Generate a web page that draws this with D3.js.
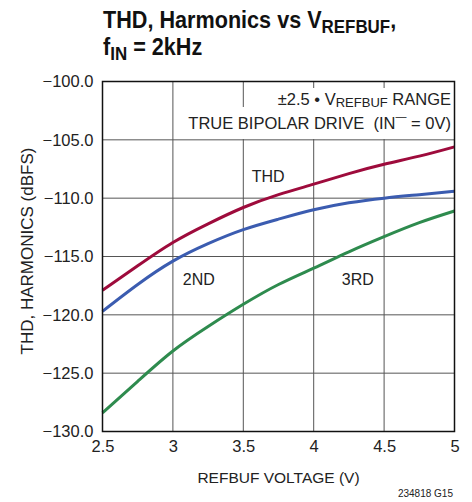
<!DOCTYPE html>
<html>
<head>
<meta charset="utf-8">
<script src="https://cdn.jsdelivr.net/npm/d3@7"></script>
<style>
  body { margin: 0; background: #fff; }
  svg { display: block; font-family: "Liberation Sans", Arial, sans-serif; }
</style>
</head>
<body>
<div class="container"></div>
<script>
const voltage = [2.5, 2.75, 3, 3.25, 3.5, 3.75, 4, 4.25, 4.5, 4.75, 5];
const thd = [-117.9, -115.8, -113.8, -112.2, -110.8, -109.7, -108.8, -107.9, -107.1, -106.4, -105.6];
const second = [-119.7, -117.4, -115.4, -113.9, -112.7, -111.8, -111.0, -110.4, -110.0, -109.7, -109.4];
const third = [-128.4, -125.7, -123.1, -121.0, -119.1, -117.4, -116.0, -114.6, -113.3, -112.1, -111.1];
const xTicks = [2.5, 3, 3.5, 4, 4.5, 5];
const yTicks = [-100, -105, -110, -115, -120, -125, -130];

const series = [
  { name: "THD", values: thd, color: "#9e0b3c" },
  { name: "2ND", values: second, color: "#3b5cb0" },
  { name: "3RD", values: third, color: "#2e8b4e" },
];

const width = 472;
const height = 502;
const margin = { left: 102.5, right: 17.5, top: 81.5, bottom: 70.5 };

const svg = d3
  .select(".container")
  .append("svg")
  .attr("width", width)
  .attr("height", height);

const x = d3.scaleLinear().domain([2.5, 5]).range([margin.left, width - margin.right]);
const y = d3.scaleLinear().domain([-130, -100]).range([height - margin.bottom, margin.top]);

// grid
svg.append("g")
  .selectAll("line")
  .data(xTicks.slice(1, -1))
  .join("line")
  .attr("x1", (d) => x(d)).attr("x2", (d) => x(d))
  .attr("y1", y(-100)).attr("y2", y(-130))
  .attr("stroke", "#555").attr("stroke-width", 1);

svg.append("g")
  .selectAll("line")
  .data(yTicks.slice(1, -1))
  .join("line")
  .attr("x1", x(2.5)).attr("x2", x(5))
  .attr("y1", (d) => y(d)).attr("y2", (d) => y(d))
  .attr("stroke", "#555").attr("stroke-width", 1);

// white boxes behind annotation
svg.append("rect").attr("x", 272).attr("y", 88).attr("width", 180).attr("height", 20).attr("fill", "#fff");
svg.append("rect").attr("x", 186).attr("y", 107).attr("width", 266).attr("height", 32).attr("fill", "#fff");

// curves
const line = d3.line()
  .x((d, i) => x(voltage[i]))
  .y((d) => y(d))
  .curve(d3.curveNatural);

svg.append("g")
  .selectAll("path")
  .data(series)
  .join("path")
  .attr("d", (d) => line(d.values))
  .attr("fill", "none")
  .attr("stroke", (d) => d.color)
  .attr("stroke-width", 3)
  .attr("stroke-linejoin", "round");

// frame
svg.append("rect")
  .attr("x", x(2.5)).attr("y", y(-100))
  .attr("width", x(5) - x(2.5)).attr("height", y(-130) - y(-100))
  .attr("fill", "none").attr("stroke", "#111").attr("stroke-width", 1.5);

// axes
const fmtY = (d) => d.toFixed(1).replace("-", "\u2212");
svg.append("g")
  .attr("transform", `translate(${x(2.5)},0)`)
  .call(d3.axisLeft(y).tickValues(yTicks).tickFormat(fmtY).tickSize(0).tickPadding(9))
  .call((g) => g.select(".domain").remove())
  .selectAll("text")
  .attr("font-family", null)
  .style("font-size", "16.5px")
  .attr("fill", "#222");

svg.append("g")
  .attr("transform", `translate(0,${y(-130)})`)
  .call(d3.axisBottom(x).tickValues(xTicks).tickFormat((d) => d).tickSize(0).tickPadding(9))
  .call((g) => g.select(".domain").remove())
  .selectAll("text")
  .attr("font-family", null)
  .style("font-size", "16.5px")
  .attr("fill", "#222");

// axis titles
svg.append("text")
  .attr("x", (x(2.5) + x(5)) / 2).attr("y", 483)
  .attr("text-anchor", "middle")
  .style("font-size", "15.5px").attr("fill", "#222")
  .text("REFBUF VOLTAGE (V)");

svg.append("text")
  .attr("transform", `translate(33,251) rotate(-90)`)
  .attr("text-anchor", "middle")
  .style("font-size", "17px").attr("fill", "#222")
  .text("THD, HARMONICS (dBFS)");

// title (condensed look)
const title = svg.append("text")
  .attr("transform", "translate(103,28) scale(0.94,1)")
  .style("font-size", "23px").style("font-weight", "bold").attr("fill", "#111");
title.append("tspan").text("THD, Harmonics vs V");
title.append("tspan").attr("dy", 5).style("font-size", "18px").text("REFBUF");
title.append("tspan").attr("dy", -5).text(",");

const title2 = svg.append("text")
  .attr("transform", "translate(103,55) scale(0.94,1)")
  .style("font-size", "23px").style("font-weight", "bold").attr("fill", "#111");
title2.append("tspan").text("f");
title2.append("tspan").attr("dy", 5).style("font-size", "18px").text("IN");
title2.append("tspan").attr("dy", -5).text(" = 2kHz");

// annotation
const note1 = svg.append("text")
  .attr("x", 451).attr("y", 105)
  .attr("text-anchor", "end")
  .style("font-size", "16.5px").attr("fill", "#222");
note1.append("tspan").text("\u00b12.5 \u2022 V");
note1.append("tspan").attr("dy", 2).style("font-size", "13px").text("REFBUF");
note1.append("tspan").attr("dy", -2).text(" RANGE");

const note2 = svg.append("text")
  .attr("x", 451).attr("y", 129)
  .attr("text-anchor", "end")
  .style("font-size", "16.5px").attr("fill", "#222");
note2.append("tspan").text("TRUE BIPOLAR DRIVE\u00a0\u00a0(IN");
note2.append("tspan").attr("dy", -9).style("font-size", "11px").text("\u2014");
note2.append("tspan").attr("dy", 9).text(" = 0V)");

// curve labels
const labels = [
  { text: "THD", v: 3.56, val: -108.6 },
  { text: "2ND", v: 3.07, val: -117.4 },
  { text: "3RD", v: 4.2, val: -117.4 },
];
svg.append("g")
  .selectAll("text")
  .data(labels)
  .join("text")
  .attr("x", (d) => x(d.v))
  .attr("y", (d) => y(d.val))
  .style("font-size", "16px").attr("fill", "#222")
  .text((d) => d.text);

svg.append("text")
  .attr("x", 453).attr("y", 497)
  .attr("text-anchor", "end")
  .style("font-size", "10px").attr("fill", "#222")
  .text("234818 G15");
</script>
</body>
</html>
